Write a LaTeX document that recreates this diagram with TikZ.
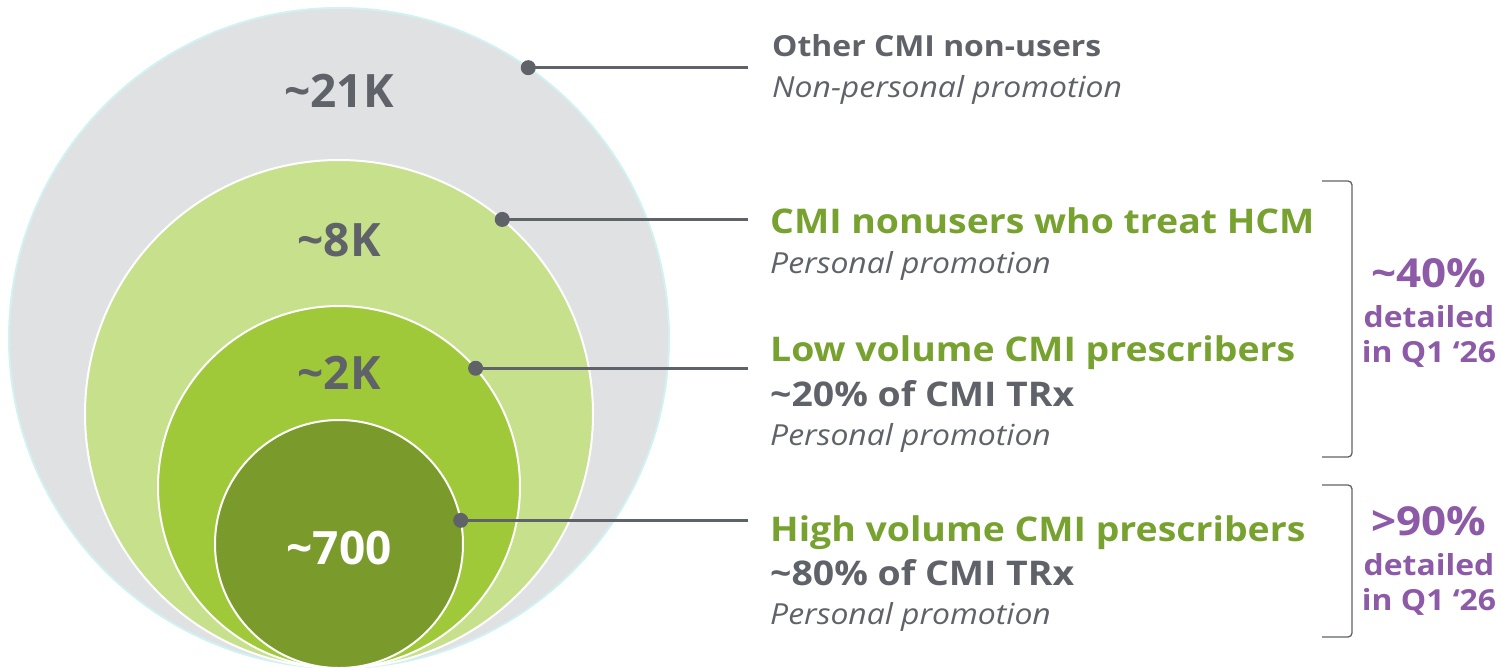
\documentclass[tikz,border=0pt]{standalone}
\usepackage{fontspec}
\setmainfont{Open Sans}
\newfontfamily\widefont[FakeStretch=1.1]{Open Sans}
\usetikzlibrary{calc}
\definecolor{cmigrey}{HTML}{5F6268}
\definecolor{cmigreen}{HTML}{78A22F}
\definecolor{cmipurple}{HTML}{8C5AA6}
\definecolor{ringA}{HTML}{DFE1E3}
\definecolor{ringB}{HTML}{C6E08B}
\definecolor{ringC}{HTML}{A0C93A}
\definecolor{ringD}{HTML}{7A9B2B}
\begin{document}
\begin{tikzpicture}[x=1pt,y=-1pt,
 ring/.style={circle, inner sep=0, outer sep=0, draw=white, line width=2pt},
 dot/.style={circle, fill=cmigrey, inner sep=0, minimum size=15pt},
 lead/.style={cmigrey, line width=2.5pt},
 num/.style={anchor=base, inner sep=0, text=cmigrey, font=\fontsize{46}{50}\selectfont\bfseries},
 head/.style={anchor=base west, inner sep=0, font=\widefont\fontsize{34}{40}\selectfont\bfseries},
 sub/.style={anchor=base west, inner sep=0, text=cmigrey, font=\widefont\fontsize{29}{34}\selectfont\itshape},
 pct/.style={anchor=base, inner sep=0, text=cmipurple, font=\widefont\fontsize{40}{44}\selectfont\bfseries},
 pctsub/.style={anchor=base, inner sep=0, text=cmipurple, font=\widefont\fontsize{29}{34}\selectfont\bfseries},
 brace/.style={cmigrey, line width=1.3pt, rounded corners=4pt}]
\useasboundingbox (0,0) rectangle (1502,667);
% nested rings, all touching at the bottom
\node[ring, fill=ringA, draw=ringA!80!cyan!60!white, minimum size=660pt] (cA) at (339,338) {};
\node[ring, fill=ringB, minimum size=508pt] (cB) at (339,414) {};
\node[ring, fill=ringC, minimum size=362pt] (cC) at (339,487) {};
\node[ring, fill=ringD, minimum size=248pt] (cD) at (339,544) {};
\node[num] (nA) at (339,107) {\char`~21K};
\node[num] (nB) at (339,256) {\char`~8K};
\node[num] (nC) at (339,389) {\char`~2K};
\node[num, text=white] (nD) at (339,564) {\char`~700};
% dots and leader lines
\coordinate (lx) at (748,0);
\node[dot] (dA) at (cA.55.5) {};
\node[dot] (dB) at (cB.50.3) {};
\node[dot] (dC) at (cC.41.6) {};
\node[dot] (dD) at (cD.11.2) {};
\foreach \d in {A,B,C,D}
 \draw[lead] (d\d.center) -- (d\d -| lx) coordinate (e\d);
% labels
\node[head, text=cmigrey, font=\widefont\fontsize{29}{34}\selectfont\bfseries] (tA) at (772,56) {Other CMI non-users};
\node[sub] (sA) at (772,97) {Non-personal promotion};
\node[head, text=cmigreen] (tB) at (770,233) {CMI nonusers who treat HCM};
\node[sub] (sB) at (770,273) {Personal promotion};
\node[head, text=cmigreen] (tC) at (770,361) {Low volume CMI prescribers};
\node[head, text=cmigrey] (uC) at (770,406) {\char`~20\% of CMI TRx};
\node[sub] (sC) at (770,445) {Personal promotion};
\node[head, text=cmigreen] (tD) at (770,541) {High volume CMI prescribers};
\node[head, text=cmigrey] (uD) at (770,585) {\char`~80\% of CMI TRx};
\node[sub] (sD) at (770,624) {Personal promotion};
% brackets
\draw[brace] (1322,181) -| (1352,457) -- (1322,457);
\draw[brace] (1322,485) -| (1352,637) -- (1322,637);
\node[pct] (pA) at (1429,287) {\char`~40\%};
\node[pctsub] (qA) at (1429,327) {detailed};
\node[pctsub] (rA) at (1429,362) {in Q1 ‘26};
\node[pct] (pB) at (1429,535) {>90\%};
\node[pctsub] (qB) at (1429,575) {detailed};
\node[pctsub] (rB) at (1429,610) {in Q1 ‘26};
\end{tikzpicture}
\end{document}
